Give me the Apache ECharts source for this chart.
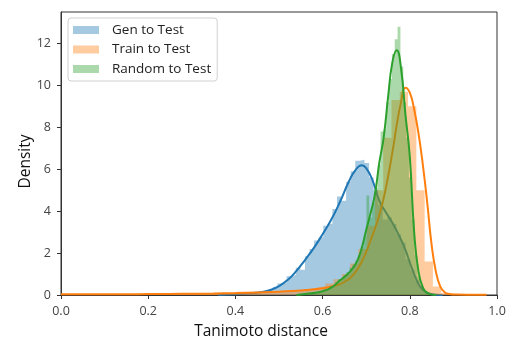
<!DOCTYPE html>
<html>
<head>
<meta charset="utf-8">
<script src="https://cdn.jsdelivr.net/npm/echarts@6/dist/echarts.min.js"></script>
<style>
  html, body { margin: 0; padding: 0; background: #fff; }
  #chart { width: 506px; height: 341px; }
</style>
</head>
<body>
<div id="chart"></div>
<script>
// Histogram bins: first left edge, bin width, and bar heights (density)
const genStart = 0.36;
const genWidth = 0.0105;
const genHist = [
  0.02, 0.03, 0.04, 0.04, 0.06, 0.05, 0.08, 0.10, 0.12, 0.14,
  0.22, 0.25, 0.38, 0.55, 0.60, 0.90, 0.95, 1.30, 1.20, 1.85,
  2.20, 2.60, 2.75, 3.30, 3.40, 4.10, 4.70, 4.50, 5.40, 5.90,
  6.40, 6.45, 6.30, 5.60, 5.00, 4.30, 3.60, 3.70, 3.40, 2.90,
  2.50, 1.70, 1.20, 0.70, 0.40, 0.15, 0.06, 0.03, 0.01, 0.005
];

const trainStart = 0.017;
const trainWidth = 0.019;
const trainHist = [
  0.02, 0.03, 0.03, 0.02, 0.04, 0.03, 0.04, 0.04, 0.05, 0.04,
  0.05, 0.05, 0.06, 0.05, 0.06, 0.07, 0.06, 0.08, 0.08, 0.09,
  0.10, 0.11, 0.12, 0.14, 0.16, 0.18, 0.20, 0.24, 0.28, 0.34,
  0.42, 0.55, 0.75, 1.00, 1.50, 2.20, 3.30, 5.00, 7.50, 9.30,
  9.70, 9.00, 5.00, 1.60, 0.40, 0.10, 0.04, 0.02, 0.01, 0.01
];

const randStart = 0.551;
const randWidth = 0.0065;
const randHist = [
  0.02, 0.03, 0.05, 0.05, 0.08, 0.10, 0.12, 0.18, 0.25, 0.30,
  0.42, 0.50, 0.62, 0.75, 0.80, 0.95, 1.10, 1.30, 1.45, 1.65,
  1.90, 2.30, 2.80, 4.75, 3.70, 4.40, 5.10, 6.20, 7.80, 7.90,
  9.20, 10.30, 11.50, 12.20, 12.80, 10.90, 9.20, 7.50, 5.60, 3.60,
  1.90, 0.90, 0.40, 0.18, 0.08, 0.04, 0.02, 0.01, 0.01, 0.005
];

// Kernel density estimates: x positions and densities
const genKdeX = [0.36, 0.38, 0.40, 0.42, 0.44, 0.46, 0.48, 0.50, 0.52, 0.54, 0.56, 0.58, 0.60, 0.62, 0.64, 0.66, 0.675, 0.69, 0.70, 0.715, 0.73, 0.745, 0.76, 0.775, 0.79, 0.80, 0.81, 0.82, 0.83, 0.84, 0.85, 0.875];
const genKdeY = [0.01, 0.02, 0.04, 0.06, 0.09, 0.14, 0.24, 0.42, 0.72, 1.15, 1.68, 2.25, 2.90, 3.60, 4.45, 5.40, 5.95, 6.19, 6.05, 5.45, 4.50, 3.95, 3.45, 2.85, 2.15, 1.55, 1.00, 0.52, 0.25, 0.10, 0.04, 0.00];

const trainKdeX = [0.0, 0.05, 0.10, 0.15, 0.20, 0.25, 0.30, 0.35, 0.40, 0.45, 0.50, 0.55, 0.60, 0.63, 0.65, 0.67, 0.69, 0.71, 0.73, 0.745, 0.76, 0.77, 0.78, 0.79, 0.80, 0.81, 0.82, 0.83, 0.84, 0.85, 0.86, 0.87, 0.88, 0.89, 0.91, 0.95, 0.976];
const trainKdeY = [0.03, 0.035, 0.04, 0.04, 0.045, 0.05, 0.06, 0.07, 0.09, 0.12, 0.16, 0.22, 0.32, 0.45, 0.62, 0.95, 1.60, 2.60, 3.80, 5.10, 6.80, 8.10, 9.20, 9.89, 9.65, 8.85, 7.70, 6.20, 4.40, 2.40, 1.10, 0.40, 0.13, 0.05, 0.02, 0.01, 0.01];

const randKdeX = [0.54, 0.56, 0.58, 0.60, 0.62, 0.64, 0.655, 0.67, 0.68, 0.69, 0.70, 0.71, 0.72, 0.73, 0.74, 0.75, 0.76, 0.77, 0.78, 0.79, 0.80, 0.81, 0.82, 0.83, 0.84, 0.85, 0.86];
const randKdeY = [0.0, 0.05, 0.10, 0.18, 0.35, 0.70, 0.95, 1.30, 1.65, 2.25, 3.10, 3.90, 4.80, 6.30, 7.50, 9.40, 11.10, 11.67, 10.80, 8.60, 6.60, 3.00, 1.10, 0.35, 0.10, 0.03, 0.0];

const seriesNames = ['Gen to Test', 'Train to Test', 'Random to Test'];
const xTicks = [0, 0.2, 0.4, 0.6, 0.8, 1.0];
const yTicks = [0, 2, 4, 6, 8, 10, 12];

const lineColors = ['#1f77b4', '#ff7f0e', '#2ca02c'];
const fillColors = ['rgba(31,119,180,0.4)', 'rgba(255,127,14,0.4)', 'rgba(44,160,44,0.4)'];

// Turn bar heights into step outline points (left edge of each bin, closing at the last right edge)
function stepPoints(start, width, heights) {
  const pts = heights.map((h, i) => [start + i * width, h]);
  const end = start + heights.length * width;
  pts.push([end, heights[heights.length - 1]]);
  pts.push([end, 0]);
  return pts;
}
function pairs(xs, ys) { return xs.map((x, i) => [x, ys[i]]); }

const hists = [
  stepPoints(genStart, genWidth, genHist),
  stepPoints(trainStart, trainWidth, trainHist),
  stepPoints(randStart, randWidth, randHist)
];
const kdes = [
  pairs(genKdeX, genKdeY),
  pairs(trainKdeX, trainKdeY),
  pairs(randKdeX, randKdeY)
];

const series = [];
for (let k = 0; k < 3; k++) {
  series.push({
    name: seriesNames[k],
    type: 'line',
    step: 'end',
    data: hists[k],
    showSymbol: false,
    lineStyle: { width: 0, opacity: 0 },
    areaStyle: { color: fillColors[k], opacity: 1, origin: 'start' },
    z: 2 * k + 1,
    silent: true
  });
  series.push({
    name: seriesNames[k] + ' KDE',
    type: 'line',
    data: kdes[k],
    showSymbol: false,
    smooth: 0.5,
    lineStyle: { width: 2, color: lineColors[k] },
    z: 2 * k + 2,
    silent: true
  });
}

const chart = echarts.init(document.getElementById('chart'), null, { renderer: 'canvas' });
chart.setOption({
  animation: false,
  backgroundColor: '#ffffff',
  textStyle: { fontFamily: 'Open Sans' },
  grid: {
    left: 61, right: 9, top: 12, bottom: 46,
    outerBoundsMode: 'none',
    containLabel: false,
    show: true, borderColor: '#333', borderWidth: 1, backgroundColor: 'transparent'
  },
  legend: {
    orient: 'vertical',
    left: 68, top: 18,
    padding: [5, 6, 5, 5],
    itemWidth: 26, itemHeight: 8, itemGap: 5.5,
    borderColor: '#d0d0d0', borderWidth: 1, borderRadius: 3,
    backgroundColor: 'rgba(255,255,255,0.85)',
    selectedMode: false,
    textStyle: { fontFamily: 'Open Sans', fontSize: 13.5, color: '#222', lineHeight: 14, padding: [0, 0, 0, 8] },
    data: seriesNames.map((n, i) => ({ name: n, icon: 'rect', itemStyle: { color: fillColors[i] } }))
  },
  xAxis: {
    type: 'value',
    min: xTicks[0], max: xTicks[xTicks.length - 1], interval: 0.2,
    name: 'Tanimoto distance',
    nameLocation: 'middle', nameGap: 29,
    nameMoveOverlap: false,
    nameTextStyle: { fontFamily: 'Open Sans', fontSize: 15.5, color: '#111', padding: [0, 36, 0, 0] },
    axisLine: { show: true, onZero: false, lineStyle: { color: '#333', width: 1 } },
    axisTick: { show: true, inside: false, length: 4, lineStyle: { color: '#333' } },
    axisLabel: { formatter: v => v.toFixed(1), fontSize: 12.5, color: '#444', margin: 10 },
    splitLine: { show: false }
  },
  yAxis: {
    type: 'value',
    min: 0, max: 13.5, interval: 2,
    name: 'Density',
    nameLocation: 'middle', nameGap: 27,
    nameMoveOverlap: false,
    nameTextStyle: { fontFamily: 'Open Sans', fontSize: 15.5, color: '#111', padding: [0, 16, 0, 0] },
    axisLine: { show: true, lineStyle: { color: '#333', width: 1 } },
    axisTick: { show: true, inside: false, length: 4, lineStyle: { color: '#333' }, customValues: yTicks },
    axisLabel: {
      fontSize: 12.5, color: '#444', margin: 10,
      customValues: yTicks,
      formatter: v => String(v)
    },
    splitLine: { show: false }
  },
  series: series
});
</script>
</body>
</html>
